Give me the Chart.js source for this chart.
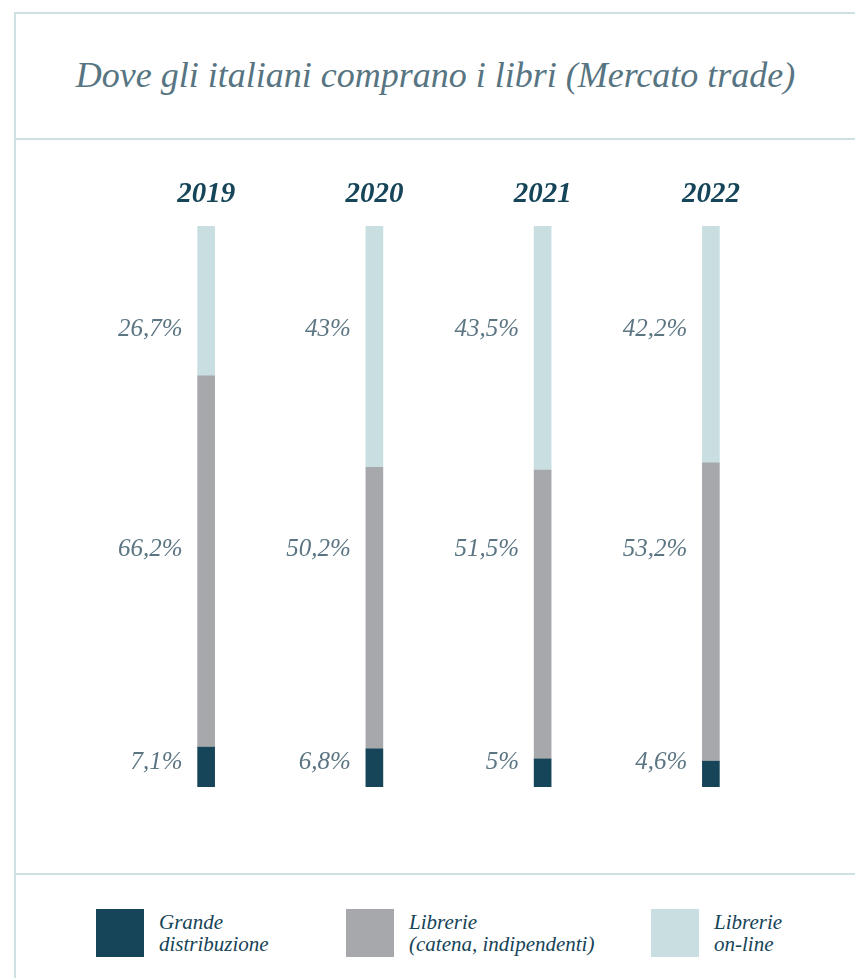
<!DOCTYPE html>
<html>
<head>
<meta charset="utf-8">
<script src="https://cdn.jsdelivr.net/npm/chart.js@4.4.1/dist/chart.umd.min.js"></script>
<style>
  body { margin: 0; background: #fff; width: 855px; height: 978px; overflow: hidden; position: relative; }
  .frame { position: absolute; left: 14px; top: 12px; right: 0; bottom: 0;
           border-left: 2px solid #cfe0e3; border-top: 2px solid #cfe0e3; }
  .title { position: absolute; left: 0; right: 0; top: 0; height: 124px; line-height: 122px;
           text-align: center; font-family: "Liberation Serif", serif; font-style: italic;
           font-size: 36px; color: #567481; border-bottom: 2px solid #cfe0e3; }
  .plot { position: absolute; left: 0; top: 126px; width: 841px; height: 733px; border-bottom: 2px solid #cfe0e3; }
  .legend { position: absolute; left: 0; top: 861px; right: 0; bottom: 0; }
  .item { position: absolute; top: 34px; display: flex; align-items: center; }
  .swatch { width: 48px; height: 48px; margin-right: 15px; }
  .txt { font-family: "Liberation Serif", serif; font-style: italic; font-size: 21px;
         line-height: 22px; color: #164458; }
</style>
</head>
<body>
<div class="frame">
  <div class="title">Dove gli italiani comprano i libri (Mercato trade)</div>
  <div class="plot"><canvas id="chart"></canvas></div>
  <div class="legend" id="legend"></div>
</div>
<script>
// =========================
// DATA
// =========================
const years = ["2019", "2020", "2021", "2022"];
const grandeDistribuzione = [7.1, 6.8, 5, 4.6];
const librerie = [66.2, 50.2, 51.5, 53.2];
const librerieOnline = [26.7, 43, 43.5, 42.2];
const seriesNames = [
    ["Grande", "distribuzione"],
    ["Librerie", "(catena, indipendenti)"],
    ["Librerie", "on-line"]
];
const seriesColors = ["#164458", "#a7a8ab", "#c8dee1"];
// where each row of percentage labels sits, in axis units
const labelRows = [4.3, 42.3, 81.6];

const fmt = v => String(v).replace(".", ",") + "%";

// =========================
// LABELS PLUGIN
// =========================
const barLabels = {
    id: "barLabels",
    afterDatasetsDraw(chart) {
        const ctx = chart.ctx;
        const y = chart.scales.y;
        ctx.save();
        chart.data.datasets.forEach((ds, i) => {
            const meta = chart.getDatasetMeta(i);
            meta.data.forEach((bar, j) => {
                ctx.font = "italic 25px 'Liberation Serif', serif";
                ctx.fillStyle = "#5b7582";
                ctx.textAlign = "right";
                ctx.textBaseline = "middle";
                ctx.fillText(fmt(ds.data[j]), bar.x - bar.width / 2 - 15, y.getPixelForValue(labelRows[i]));
            });
        });
        // years above bars
        const meta = chart.getDatasetMeta(0);
        meta.data.forEach((bar, j) => {
            ctx.font = "italic bold 29px 'Liberation Serif', serif";
            ctx.fillStyle = "#164458";
            ctx.textAlign = "center";
            ctx.textBaseline = "middle";
            ctx.fillText(chart.data.labels[j], bar.x, chart.chartArea.top - 31);
        });
        ctx.restore();
    }
};

// =========================
// CHART
// =========================
new Chart(document.getElementById("chart"), {
    type: "bar",
    data: {
        labels: years,
        datasets: [
            { label: seriesNames[0].join(" "), data: grandeDistribuzione, backgroundColor: seriesColors[0] },
            { label: seriesNames[1].join(" "), data: librerie, backgroundColor: seriesColors[1] },
            { label: seriesNames[2].join(" "), data: librerieOnline, backgroundColor: seriesColors[2] }
        ]
    },
    options: {
        responsive: true,
        maintainAspectRatio: false,
        animation: false,
        layout: { padding: { left: 106, right: 62, top: 86, bottom: 86 } },
        datasets: { bar: { barThickness: 17, borderWidth: 0 } },
        scales: {
            x: { stacked: true, display: false },
            y: { stacked: true, display: false, min: 0, max: 100 }
        },
        plugins: { legend: { display: false }, tooltip: { enabled: false } }
    },
    plugins: [barLabels]
});

// =========================
// LEGEND
// =========================
const legendLeft = [80, 330, 635];
document.getElementById("legend").innerHTML = seriesNames
    .map((name, i) => `
        <div class="item" style="left:${legendLeft[i]}px">
            <div class="swatch" style="background:${seriesColors[i]}"></div>
            <div class="txt">${name.join("<br>")}</div>
        </div>`)
    .join("");
</script>
</body>
</html>
